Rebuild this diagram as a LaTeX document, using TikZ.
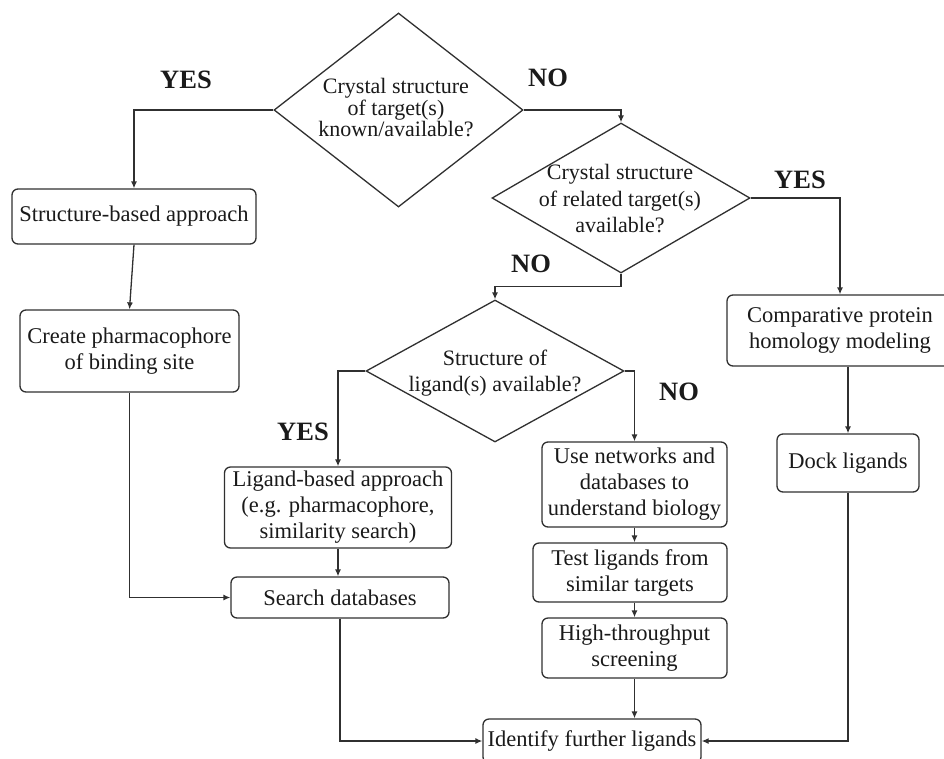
\documentclass[tikz,border=0pt]{standalone}
\usepackage{fontspec}
\setmainfont{Liberation Serif}
\usetikzlibrary{shapes.geometric,arrows.meta,calc}
\definecolor{linec}{HTML}{303030}
\definecolor{textc}{HTML}{1A1A1A}
\begin{document}
\begin{tikzpicture}[x=1pt,y=-1pt,
  box/.style={draw=linec, line width=1.3pt, rounded corners=6pt, align=center, inner sep=0pt, font=\fontsize{22.5}{26}\selectfont, text=textc},
  dia/.style={draw=linec, line width=1.3pt, diamond, inner sep=0pt},
  diatext/.style={align=center, inner sep=0pt, font=\fontsize{22}{26.5}\selectfont, text=textc},
  lab/.style={font=\fontsize{26.5}{30}\selectfont\bfseries, inner sep=0pt, text=textc},
  arr/.style={draw=linec, line width=1.3pt, -{Latex[length=7pt,width=6pt]}}
]
\fill[white] (0,0) rectangle (944,758);
\useasboundingbox (0,0) rectangle (944,758);

% decisions
\node[dia, minimum width=249pt, minimum height=194pt] (d1) at (398.5,110) {};
\node[diatext, font=\fontsize{22}{21.5}\selectfont] (t1) at (396,108) {Crystal structure\\of target(s)\\known/available?};
\node[dia, minimum width=258pt, minimum height=150pt] (d2) at (621,198) {};
\node[diatext] (t2) at (620,199) {Crystal structure\\of related target(s)\\available?};
\node[dia, minimum width=258pt, minimum height=142pt] (d3) at (495,371) {};
\node[diatext] (t3) at (495,373) {Structure of\\ligand(s) available?};

% boxes
\node[box, minimum width=244pt, minimum height=55pt] (sba) at (134,216.5) {Structure-based approach};
\node[box, minimum width=219pt, minimum height=82pt] (cph) at (129.5,351) {Create pharmacophore\\of binding site};
\node[box, minimum width=227pt, minimum height=81pt] (lba) at (338,507.5) {Ligand-based approach\\(e.g. pharmacophore,\\similarity search)};
\node[box, minimum width=218pt, minimum height=41pt] (sdb) at (340,597.5) {Search databases};
\node[box, minimum width=185pt, minimum height=85pt] (unw) at (634.5,484.5) {Use networks and\\databases to\\understand biology};
\node[box, minimum width=194pt, minimum height=59pt] (tlg) at (630,572.5) {Test ligands from\\similar targets};
\node[box, minimum width=185pt, minimum height=60pt] (hts) at (634.5,648) {High-throughput\\screening};
\node[box, minimum width=226pt, minimum height=71pt] (cpm) at (840,330.5) {Comparative protein\\homology modeling};
\node[box, minimum width=142pt, minimum height=58pt] (dck) at (848,463) {Dock ligands};
\node[box, minimum width=218pt, minimum height=44pt] (ifl) at (592,741) {Identify further ligands};

% labels
\node[lab] (y1) at (186,80) {YES};
\node[lab] (n1) at (548,78) {NO};
\node[lab] (y2) at (800,180) {YES};
\node[lab] (n2) at (531,264) {NO};
\node[lab] (y3) at (303,432) {YES};
\node[lab] (n3) at (679,392) {NO};

% connectors
\draw[arr] (d1.west) -| (sba.north);
\draw[arr] (d1.east) -| (d2.north);
\draw[arr] (d2.east) -| (cpm.north);
\draw[arr] (d2.south) -- ++(0,13) -| (d3.north);
\draw[arr] (d3.west) -| (lba.north);
\draw[arr] (d3.east) -| (unw.north);
\draw[arr] (sba.south) -- (cph.north);
\draw[arr] (cph.south) |- (sdb.west);
\draw[arr] (lba.south) -- (lba.south |- sdb.north);
\draw[arr] (sdb.south) |- (ifl.west);
\draw[arr] (unw.south) -- (unw.south |- tlg.north);
\draw[arr] (tlg.south -| hts.north) -- (hts.north);
\draw[arr] (hts.south) -- (hts.south |- ifl.north);
\draw[arr] (cpm.south -| dck.north) -- (dck.north);
\draw[arr] (dck.south) |- (ifl.east);
\end{tikzpicture}
\end{document}
